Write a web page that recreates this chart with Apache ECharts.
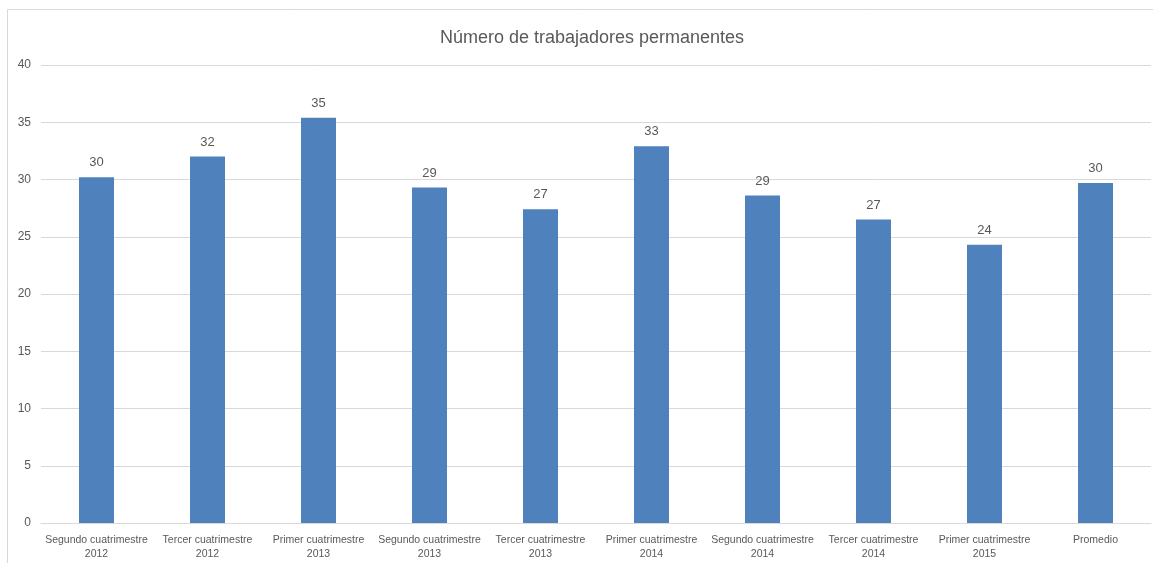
<!DOCTYPE html>
<html>
<head>
<meta charset="utf-8">
<script src="https://cdn.jsdelivr.net/npm/echarts@6/dist/echarts.min.js"></script>
<style>
  html, body { margin: 0; padding: 0; background: #fff; }
  #chart { width: 1153px; height: 563px; }
</style>
</head>
<body>
<div id="chart"></div>
<script>
// categorías del eje x
var categories = [
    'Segundo cuatrimestre\n2012', 'Tercer cuatrimestre\n2012', 'Primer cuatrimestre\n2013',
    'Segundo cuatrimestre\n2013', 'Tercer cuatrimestre\n2013', 'Primer cuatrimestre\n2014',
    'Segundo cuatrimestre\n2014', 'Tercer cuatrimestre\n2014', 'Primer cuatrimestre\n2015',
    'Promedio'
];
// valores
var values = [30.2, 32.0, 35.4, 29.3, 27.4, 32.9, 28.6, 26.5, 24.3, 29.7];
var yTicks = [0, 5, 10, 15, 20, 25, 30, 35, 40];

var textColor = '#595959';
var lineColor = '#d9d9d9';
var fontName = '"Liberation Sans", "DejaVu Sans", sans-serif';

var myChart = echarts.init(document.getElementById('chart'));

var option = {
    animation: false,
    backgroundColor: '#fff',
    title: {
        text: 'Número de trabajadores permanentes',
        left: 587,
        textAlign: 'center',
        top: 24,
        textStyle: { color: textColor, fontSize: 18, fontWeight: 'normal', fontFamily: fontName }
    },
    // marco del gráfico
    graphic: [{
        type: 'rect',
        shape: { x: 7.5, y: 9.5, width: 1150, height: 560 },
        style: { fill: 'none', stroke: lineColor, lineWidth: 1 },
        silent: true
    }],
    grid: { left: 41, right: 2, top: 65, bottom: 40, containLabel: false },
    xAxis: {
        type: 'category',
        data: categories,
        axisTick: { show: false },
        axisLine: { lineStyle: { color: lineColor } },
        axisLabel: {
            color: textColor, fontSize: 10.5, fontFamily: fontName,
            interval: 0, margin: 10, lineHeight: 14
        }
    },
    yAxis: {
        type: 'value',
        min: yTicks[0],
        max: yTicks[yTicks.length - 1],
        interval: 5,
        axisLine: { show: false },
        axisTick: { show: false },
        splitLine: { lineStyle: { color: lineColor } },
        axisLabel: { color: textColor, fontSize: 12, fontFamily: fontName, margin: 10 }
    },
    series: [{
        type: 'bar',
        data: values,
        barWidth: 35,
        itemStyle: { color: '#4f81bd' },
        label: {
            show: true,
            position: 'top',
            distance: 8,
            color: textColor,
            fontSize: 13,
            fontFamily: fontName,
            formatter: function (p) { return Math.round(p.value); }
        }
    }]
};

myChart.setOption(option);
</script>
</body>
</html>
